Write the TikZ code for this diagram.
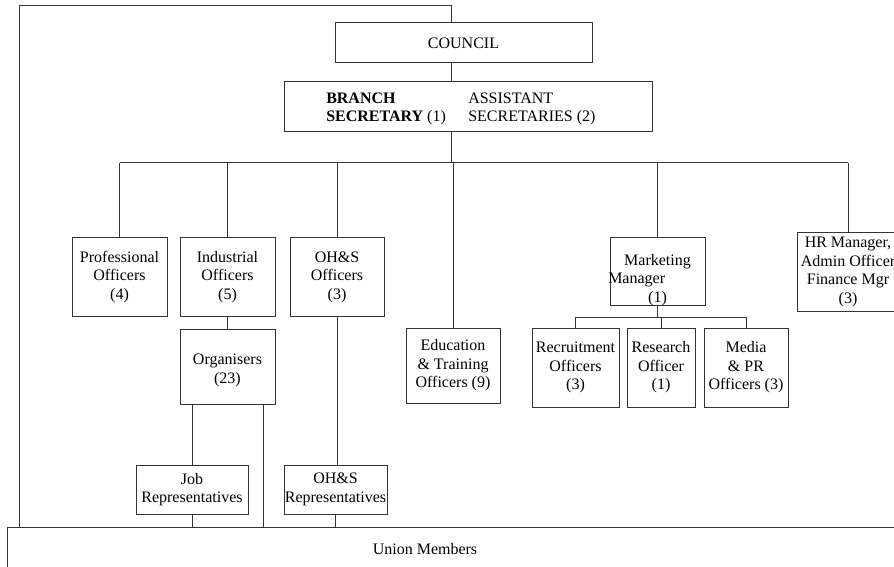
\documentclass[tikz,border=0pt]{standalone}
\usepackage{fontspec}
\setmainfont{Liberation Serif}
\usetikzlibrary{positioning}

\begin{document}
\begin{tikzpicture}[x=0.75pt,y=-0.75pt,
    font=\fontsize{12}{13.9}\selectfont,
    office/.style 2 args={draw=black!80, line width=0.75pt, inner sep=0pt, align=center,
      minimum width=#1*0.75pt, minimum height=#2*0.75pt},
    link/.style={draw=black!80, line width=0.75pt}]
  \useasboundingbox (0,0) rectangle (894,567);

  \node[office={257}{40}] (council) at (463.5,43) {COUNCIL};
  \node[office={368}{50}] (branch) at (468,107) {};
  \node[anchor=west, align=left, inner sep=0pt] (bsec) at (326,109) {\textbf{BRANCH}\\\textbf{SECRETARY} (1)};
  \node[anchor=west, align=left, inner sep=0pt] (asec) at (468,109) {ASSISTANT\\SECRETARIES (2)};

  \node[office={95}{78}] (prof) at (119.5,277) {Professional\\Officers\\(4)};
  \node[office={95}{78}] (indus) at (227.5,277) {Industrial\\Officers\\(5)};
  \node[office={94}{78}] (ohs) at (337,277) {OH\&S\\Officers\\(3)};
  \node[office={94}{75}] (edu) at (453,365.5) {Education\\\& Training\\Officers (9)};
  \node[office={95}{67}] (mkt) at (657.5,271.5) {};
  \node[align=center, inner sep=0pt] (mkttext) at (657.5,280) {Marketing\\Manager\hspace{2.6em}\mbox{}\\(1)};
  \node[office={102}{78}] (hr) at (848,272) {HR Manager,\\Admin Officer\\Finance Mgr\\(3)};

  \node[office={95}{75}] (org) at (227.5,366.5) {\mbox{}\\Organisers\\(23)};
  \node[office={87}{79}] (recr) at (575.5,367.5) {Recruitment\\Officers\\(3)};
  \node[office={68}{79}] (res) at (661,367.5) {Research\\Officer\\(1)};
  \node[office={84}{79}] (media) at (746,367.5) {Media\\\& PR\\Officers (3)};

  \node[office={112}{49}] (jobrep) at (192,489.5) {Job\\Representatives};
  \node[office={103}{49}] (ohsrep) at (335.5,489.5) {OH\&S\\Representatives};
  \node[office={903}{63}, anchor=north west] (union) at (7,527) {};
  \node (members) at (425,549) {Union Members};

  \coordinate (loop) at (19,6);
  \coordinate (spine) at (451,6);
  \coordinate (bus) at (451,163);
  \coordinate (subbus) at (657,317);
  \coordinate (drop) at (263,0);

  \draw[link] (spine |- council.north) -- (spine) -- (loop) -- (loop |- union.north);
  \draw[link] (spine |- council.south) -- (spine |- branch.north);
  \draw[link] (spine |- branch.south) -- (bus);
  \draw[link] (bus -| prof) -- (bus -| hr);
  \foreach \n in {prof,indus,ohs,edu,mkt,hr}
    \draw[link] (bus -| \n) -- (\n.north);
  \draw[link] (indus) -- (org);
  \draw[link] (org.south -| jobrep) -- (jobrep.north);
  \draw[link] (org.south -| drop) -- (union.north -| drop);
  \draw[link] (ohs) -- (ohs |- ohsrep.north);
  \draw[link] (jobrep) -- (jobrep |- union.north);
  \draw[link] (ohsrep) -- (ohsrep |- union.north);
  \draw[link] (mkt) -- (mkt |- subbus);
  \draw[link] (subbus -| recr) -- (subbus -| media);
  \foreach \n in {recr,res,media}
    \draw[link] (subbus -| \n) -- (\n.north);
\end{tikzpicture}
\end{document}
